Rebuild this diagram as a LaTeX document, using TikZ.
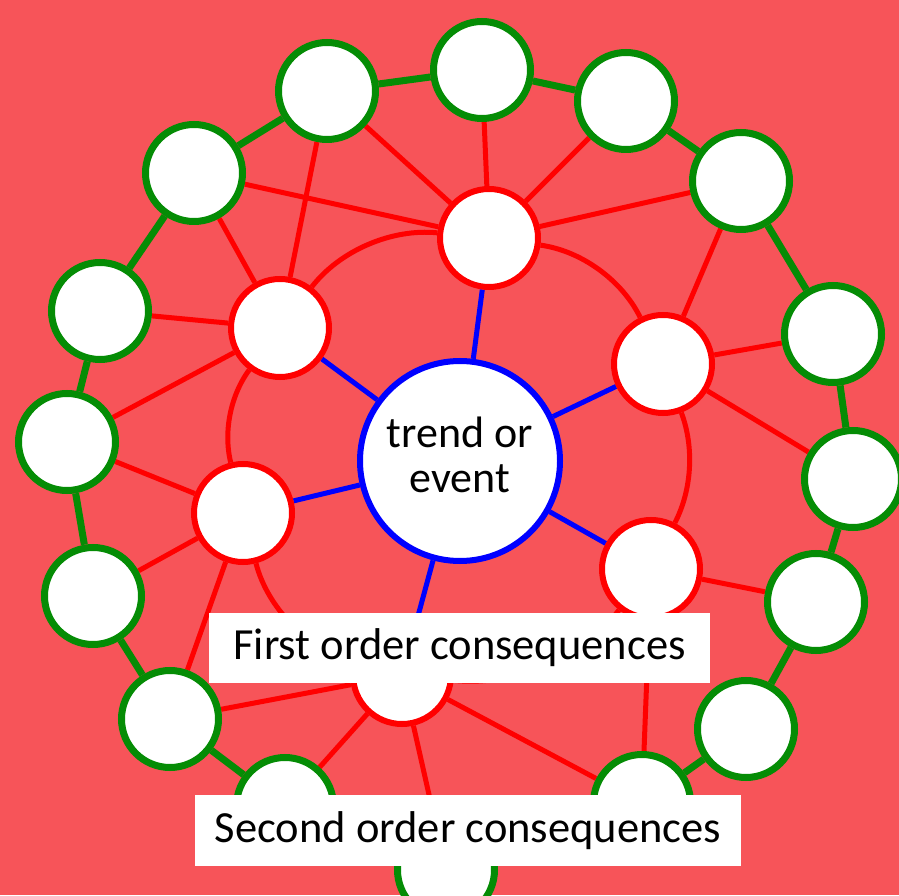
\documentclass[tikz,border=0pt]{standalone}
\usepackage{fontspec}
\setmainfont{Carlito}
\definecolor{bgred}{RGB}{247,84,89}
\definecolor{ringgreen}{RGB}{5,140,5}
\definecolor{linered}{RGB}{255,0,0}
\definecolor{hubblue}{RGB}{0,0,255}
\pgfdeclarelayer{bg}
\pgfdeclarelayer{edges}
\pgfdeclarelayer{front}
\pgfsetlayers{bg,edges,main,front}
\begin{document}
\begin{tikzpicture}[x=1pt,y=1pt,
  second/.style={circle,draw=ringgreen,line width=7pt,fill=white,minimum size=97pt,inner sep=0pt},
  first/.style={circle,draw=linered,line width=6pt,fill=white,minimum size=98pt,inner sep=0pt},
  hub/.style={circle,draw=hubblue,line width=6pt,fill=white,minimum size=200pt,inner sep=0pt,align=center,font=\fontsize{44}{45}\selectfont},
  ringlink/.style={draw=ringgreen,line width=7pt},
  redlink/.style={draw=linered,line width=5pt},
  arclink/.style={draw=linered,line width=5pt,looseness=0.86},
  bluelink/.style={draw=hubblue,line width=5pt},
  caption/.style={fill=white,inner sep=0pt,font=\fontsize{44.5}{50}\selectfont,text=black}]
\useasboundingbox (0,0) rectangle (899,895);
% hub
\node[hub] (C) at (460,434) {trend or\\event\strut};
% first order
\node[first] (F1) at (489,657) {};
\node[first] (F2) at (280,567) {};
\node[first] (F3) at (663,531) {};
\node[first] (F4) at (243,382) {};
\node[first] (F5) at (651,326) {};
\node[first] (F6) at (402,220) {};
% second order
\node[second] (G1) at (482,825) {};
\node[second] (G2) at (327,804) {};
\node[second] (G3) at (194,722) {};
\node[second] (G4) at (100,584) {};
\node[second] (G5) at (67,453) {};
\node[second] (G6) at (93,299) {};
\node[second] (G7) at (170,176) {};
\node[second] (G8) at (285,89) {};
\node[second] (G9) at (446,25) {};
\node[second] (G10) at (642,92) {};
\node[second] (G11) at (746,166) {};
\node[second] (G12) at (816,293) {};
\node[second] (G13) at (853,416) {};
\node[second] (G14) at (833,561) {};
\node[second] (G15) at (741,714) {};
\node[second] (G16) at (626,794) {};
\begin{pgfonlayer}{bg}
\fill[bgred] (0,0) rectangle (899,895);
\end{pgfonlayer}
\begin{pgfonlayer}{edges}
\foreach \a/\b in {G1/G2,G2/G3,G3/G4,G4/G5,G5/G6,G6/G7,G7/G8,G8/G9,G9/G10,G10/G11,G11/G12,G12/G13,G13/G14,G14/G15,G15/G16,G16/G1}
  \draw[ringlink] (\a) -- (\b);
\foreach \a/\b in {F1/G1,F1/G2,F1/G3,F1/G15,F1/G16,F2/G2,F2/G3,F2/G4,F2/G5,F3/G13,F3/G14,F3/G15,F4/G5,F4/G6,F4/G7,F5/G10,F5/G12,F6/G7,F6/G8,F6/G9,F6/G10}
  \draw[redlink] (\a) -- (\b);
\draw[arclink] (F3) to[bend right=28] (F1);
\draw[arclink] (F1) to[bend right=29] (F2);
\draw[arclink] (F2) to[bend right=25] (F4);
\draw[arclink] (F4) to[bend right=30] (F6);
\draw[arclink] (F6) to[bend right=29] (F5);
\draw[arclink] (F5) to[bend right=24] (F3);
\foreach \b in {F1,F2,F3,F4,F5,F6}
  \draw[bluelink] (C) -- (\b);
\end{pgfonlayer}
\begin{pgfonlayer}{front}
\node[caption,minimum width=501pt,minimum height=70pt] (L1) at (459.5,247) {First order consequences};
\node[caption,minimum width=546pt,minimum height=71pt] (L2) at (468,64.5) {Second order consequences};
\end{pgfonlayer}
\end{tikzpicture}
\end{document}
